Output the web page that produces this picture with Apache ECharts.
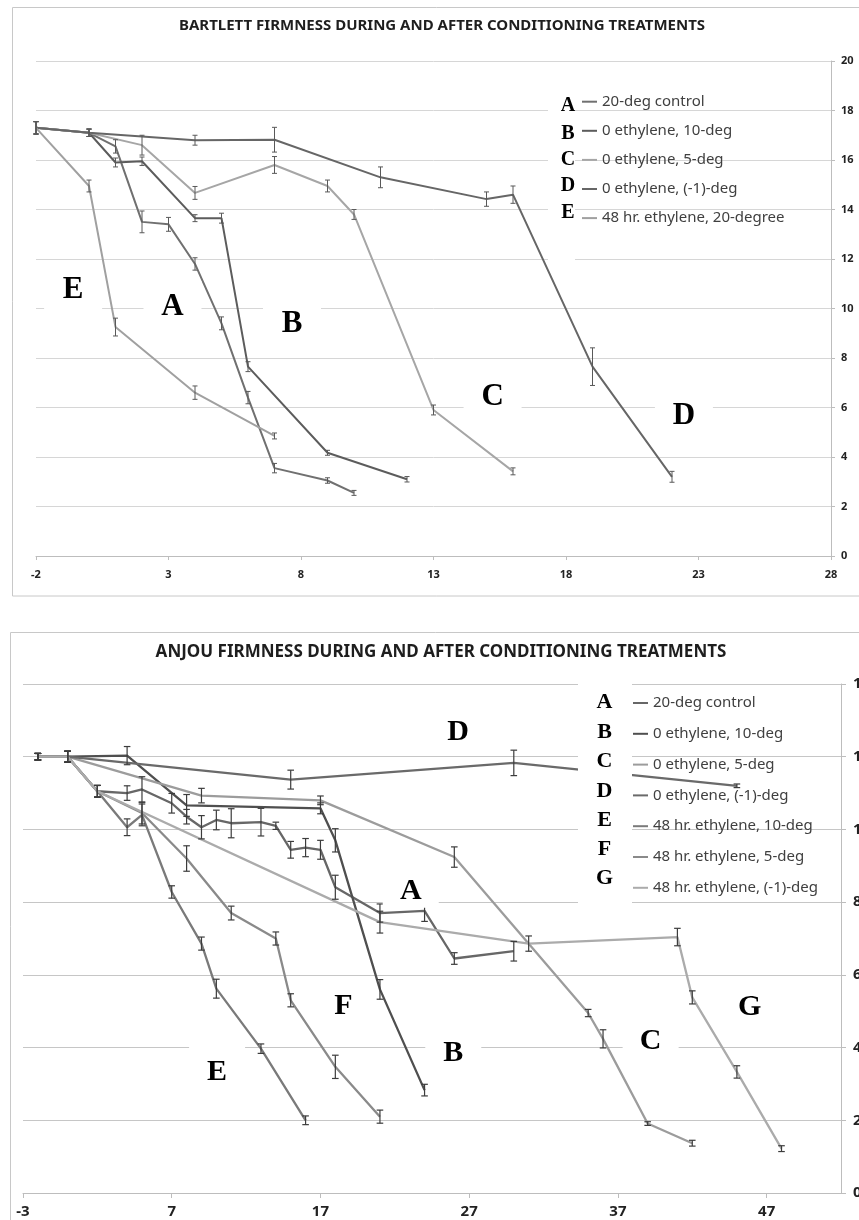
<!DOCTYPE html>
<html><head><meta charset="utf-8">
<script src="https://cdn.jsdelivr.net/npm/echarts@6/dist/echarts.min.js"></script>
<style>
html,body{margin:0;padding:0;background:#fff;width:859px;height:1220px;overflow:hidden}
#c1{position:absolute;left:0;top:0;width:859px;height:610px}
#c2{position:absolute;left:0;top:610px;width:859px;height:610px}
</style>
</head><body><div id="c1"></div><div id="c2"></div>
<script>
// ---------- DATA: [day, firmness, error half-width] ----------
// Bartlett
const bartA = [[-2,17.3,0.25],[0,17.1,0.15],[1,16.55,0.27],[2,13.5,0.44],[3,13.4,0.28],[4,11.8,0.25],[5,9.4,0.26],[6,6.4,0.25],[7,3.55,0.19],[9,3.05,0.11],[10,2.55,0.1]];
const bartB = [[-2,17.3,0.25],[0,17.1,0.15],[1,15.9,0.18],[2,15.95,0.17],[4,13.65,0.14],[5,13.65,0.2],[6,7.65,0.2],[9,4.17,0.1],[12,3.1,0.11]];
const bartC = [[-2,17.3,0.25],[0,17.1,0.15],[2,16.6,0.4],[4,14.67,0.26],[7,15.8,0.34],[9,14.95,0.24],[10,13.8,0.2],[13,5.9,0.2],[16,3.42,0.14]];
const bartD = [[-2,17.3,0.25],[0,17.1,0.15],[4,16.8,0.2],[7,16.82,0.5],[11,15.3,0.42],[15,14.42,0.29],[16,14.6,0.35],[19,7.65,0.76],[22,3.2,0.22]];
const bartE = [[-2,17.3,0.25],[0,14.95,0.24],[1,9.25,0.36],[4,6.6,0.27],[7,4.85,0.12]];
// Anjou
const anjA = [[-2,12.0,0.09],[0,12.0,0.15],[2,11.05,0.16],[4,11.0,0.2],[5,11.1,0.35],[7,10.72,0.27],[8,10.35,0.2],[9,10.06,0.32],[10,10.26,0.27],[11,10.17,0.4],[13,10.2,0.38],[14,10.1,0.1],[15,9.44,0.23],[16,9.5,0.25],[17,9.44,0.26],[18,8.41,0.33],[21,7.7,0.25],[24,7.76,0.29],[26,6.45,0.16],[30,6.65,0.27]];
const anjB = [[-2,12.0,0.09],[0,12.0,0.15],[4,12.03,0.25],[8,10.66,0.3],[17,10.58,0.15],[18,9.7,0.32],[21,5.6,0.27],[24,2.83,0.16]];
const anjC = [[-2,12.0,0.09],[0,12.0,0.15],[9,10.93,0.2],[17,10.8,0.12],[26,9.24,0.28],[35,4.95,0.1],[36,4.24,0.25],[39,1.91,0.05],[42,1.37,0.08]];
const anjD = [[-2,12.0,0.09],[0,12.0,0.15],[15,11.37,0.26],[30,11.83,0.35],[45,11.2,0.05]];
const anjE = [[-2,12.0,0.09],[0,12.0,0.15],[2,11.05,0.16],[4,10.06,0.23],[5,10.4,0.3],[7,8.28,0.17],[9,6.86,0.18],[10,5.62,0.26],[13,3.97,0.13],[16,2.0,0.12]];
const anjF = [[-2,12.0,0.09],[0,12.0,0.15],[2,11.05,0.16],[5,10.45,0.3],[8,9.2,0.35],[11,7.7,0.19],[14,7.0,0.18],[15,5.3,0.18],[18,3.47,0.32],[21,2.1,0.18]];
const anjG = [[-2,12.0,0.09],[0,12.0,0.15],[2,11.05,0.16],[21,7.45,0.3],[31,6.86,0.21],[41,7.04,0.24],[42,5.38,0.18],[45,3.33,0.17],[48,1.22,0.08]];

const bartNames = ['20-deg control','0 ethylene, 10-deg','0 ethylene, 5-deg','0 ethylene, (-1)-deg','48 hr. ethylene, 20-degree'];
const anjNames = ['20-deg control','0 ethylene, 10-deg','0 ethylene, 5-deg','0 ethylene, (-1)-deg','48 hr. ethylene, 10-deg','48 hr. ethylene, 5-deg','48 hr. ethylene, (-1)-deg'];
const legendLetters = ['A','B','C','D','E','F','G'];

const bartTitle = 'BARTLETT FIRMNESS DURING AND AFTER CONDITIONING TREATMENTS';
const anjTitle = 'ANJOU FIRMNESS DURING AND AFTER CONDITIONING TREATMENTS';

// in-plot letter annotations, placed in data coordinates [letter, day, firmness]
const bartLetters = [['E',-0.6,10.79],['A',3.15,10.1],['B',7.66,9.41],['C',15.23,6.46],['D',22.45,5.7]];
const anjLetters = [['D',26.26,12.7],['A',23.07,8.34],['F',18.54,5.16],['E',10.05,3.35],['B',25.93,3.87],['C',39.2,4.2],['G',45.86,5.13]];

// ---------- STYLE ----------
const SANS = "'Noto Sans', 'Open Sans', sans-serif";
const SERIF = "'Liberation Serif', 'Times New Roman', serif";
const bartColors = ['#707070','#5c5c5c','#a6a6a6','#666666','#a0a0a0'];
const anjColors = ['#676767','#4f4f4f','#9c9c9c','#6a6a6a','#7a7a7a','#8a8a8a','#ababab'];

function makeLine(name, pts, color, width){
  return {type:'line', name, data: pts.map(p=>[p[0],p[1]]), showSymbol:false, symbol:'none',
    color, lineStyle:{color, width}, itemStyle:{color}, z:2, silent:true, animation:false};
}
function makeErr(pts, color, cap, width){
  return {type:'custom', name:'err', data: pts.map(p=>[p[0], p[1]-p[2], p[1]+p[2]]),
    encode:{x:0, y:[1,2]}, z:3, silent:true, animation:false,
    renderItem(params, api){
      const x=api.value(0), lo=api.value(1), hi=api.value(2);
      const a=api.coord([x,hi]), b=api.coord([x,lo]);
      const st={stroke:color, lineWidth:width};
      return {type:'group', children:[
        {type:'line', shape:{x1:a[0],y1:a[1],x2:b[0],y2:b[1]}, style:st},
        {type:'line', shape:{x1:a[0]-cap,y1:a[1],x2:a[0]+cap,y2:a[1]}, style:st},
        {type:'line', shape:{x1:b[0]-cap,y1:b[1],x2:b[0]+cap,y2:b[1]}, style:st}]};
    }};
}
function makeLetters(items, fontSize, boxW, boxH){
  return {type:'custom', name:'letters', data: items.map(t=>[t[1],t[2]]),
    encode:{x:0, y:1}, z:10, silent:true, animation:false,
    renderItem(params, api){
      const c=api.coord([api.value(0), api.value(1)]);
      const it=items[params.dataIndex];
      const h=(boxH[it[0]] !== undefined) ? boxH[it[0]] : boxH.def;
      return {type:'group', children:[
        {type:'rect', shape:{x:c[0]-boxW/2, y:c[1]-h, width:boxW, height:2*h}, style:{fill:'#ffffff'}},
        {type:'text', x:c[0], y:c[1]+1, style:{text:it[0], fill:'#000', fontSize, fontWeight:'bold',
          fontFamily:SERIF, align:'center', verticalAlign:'middle'}}]};
    }};
}
function axes(cfg){
  return {
    xAxis:{type:'value', min:cfg.xmin, max:cfg.xmax, interval:cfg.xint,
      axisLine:{show:true, onZero:false, lineStyle:{color:'#bdbdbd', width:1}},
      axisTick:{show:true, length:cfg.tick, lineStyle:{color:'#bdbdbd'}},
      axisLabel:{margin:cfg.xmargin, fontFamily:SANS, fontWeight:'bold', fontSize:cfg.xfs, color:'#222', showMaxLabel:cfg.showMax},
      splitLine:{show:false}},
    yAxis:{type:'value', min:cfg.ymin, max:cfg.ymax, interval:cfg.yint, position:'right',
      axisLine:{show:true, onZero:false, lineStyle:{color:'#bdbdbd', width:1}},
      axisTick:{show:true, length:cfg.tick, lineStyle:{color:'#bdbdbd'}},
      axisLabel:{margin:cfg.ymargin, align:'left', fontFamily:SANS, fontWeight:'bold', fontSize:cfg.yfs, color:'#222'},
      splitLine:{show:true, lineStyle:{color:cfg.grid, width:1}}}
  };
}

// ---------- TOP: BARTLETT ----------
const c1 = echarts.init(document.getElementById('c1'), null, {renderer:'canvas'});
const bSeries = [bartA,bartB,bartC,bartD,bartE];
const o1 = Object.assign({
  animation:false,
  grid:{left:36, right:28, top:61, bottom:54, outerBoundsMode:'none', containLabel:false},
  legend:{orient:'vertical', left:582, top:92.7, padding:0, itemWidth:15, itemHeight:2, itemGap:11.1,
    icon:'rect', selectedMode:false, data:bartNames,
    textStyle:{fontFamily:SANS, fontSize:15, color:'#404040', lineHeight:18}},
  graphic:[
    {type:'rect', shape:{x:12.5, y:7.5, width:900, height:588.5}, style:{fill:'none', stroke:'#c8c8c8', lineWidth:1}, z:0},
    {type:'text', x:442, y:26, style:{text:bartTitle, fill:'#1e1e1e', fontSize:15, fontWeight:'bold', fontFamily:SANS, align:'center', verticalAlign:'middle'}, z:5},
    {type:'rect', shape:{x:548, y:90, width:27, height:172}, style:{fill:'#fff'}, z:5},
    ...[106,134,160,186,213].map((yy,i)=>({type:'text', x:568, y:yy, style:{text:legendLetters[i], fill:'#000', fontSize:20, fontWeight:'bold', fontFamily:SERIF, align:'center', verticalAlign:'middle'}, z:6}))
  ],
  series:[
    ...bSeries.map((s,i)=>makeLine(bartNames[i], s, bartColors[i], 2)),
    ...bSeries.map((s,i)=>makeErr(s, '#595959', 2.5, 1)),
    makeLetters(bartLetters, 31, 58, {def:25})
  ]
}, axes({xmin:-2, xmax:28, xint:5, ymin:0, ymax:20, yint:2, tick:4, xmargin:13, ymargin:10, xfs:11, yfs:11, grid:'#d6d6d6', showMax:true}));
c1.setOption(o1);

// ---------- BOTTOM: ANJOU ----------
const c2 = echarts.init(document.getElementById('c2'), null, {renderer:'canvas'});
const aSeries = [anjA,anjB,anjC,anjD,anjE,anjF,anjG];
const o2 = Object.assign({
  animation:false,
  grid:{left:23, right:18, top:74, bottom:27, outerBoundsMode:'none', containLabel:false},
  legend:{orient:'vertical', left:633, top:84, padding:0, itemWidth:15, itemHeight:2, itemGap:12.8,
    icon:'rect', selectedMode:false, data:anjNames,
    textStyle:{fontFamily:SANS, fontSize:15, color:'#404040', lineHeight:18}},
  graphic:[
    {type:'rect', shape:{x:10.5, y:22.5, width:900, height:700}, style:{fill:'none', stroke:'#c8c8c8', lineWidth:1}, z:0},
    {type:'text', x:441, y:42, style:{text:anjTitle, fill:'#1e1e1e', fontSize:17, fontWeight:'bold', fontFamily:SANS, align:'center', verticalAlign:'middle'}, z:5},
    {type:'rect', shape:{x:578, y:72, width:54, height:224}, style:{fill:'#fff'}, z:5},
    ...[92,122,151,181,210,239,268].map((yy,i)=>({type:'text', x:604.5, y:yy, style:{text:legendLetters[i], fill:'#000', fontSize:22, fontWeight:'bold', fontFamily:SERIF, align:'center', verticalAlign:'middle'}, z:6}))
  ],
  series:[
    ...aSeries.map((s,i)=>makeLine(anjNames[i], s, anjColors[i], 2.3)),
    ...aSeries.map((s,i)=>makeErr(s, '#3c3c3c', 3.3, 1.2)),
    makeLetters(anjLetters, 30, 56, {def:22, E:26, B:26, C:26, A:18})
  ]
}, axes({xmin:-3, xmax:52, xint:10, ymin:0, ymax:14, yint:2, tick:5, xmargin:11, ymargin:12, xfs:15, yfs:15, grid:'#c6c6c6', showMax:false}));
c2.setOption(o2);
</script></body></html>
